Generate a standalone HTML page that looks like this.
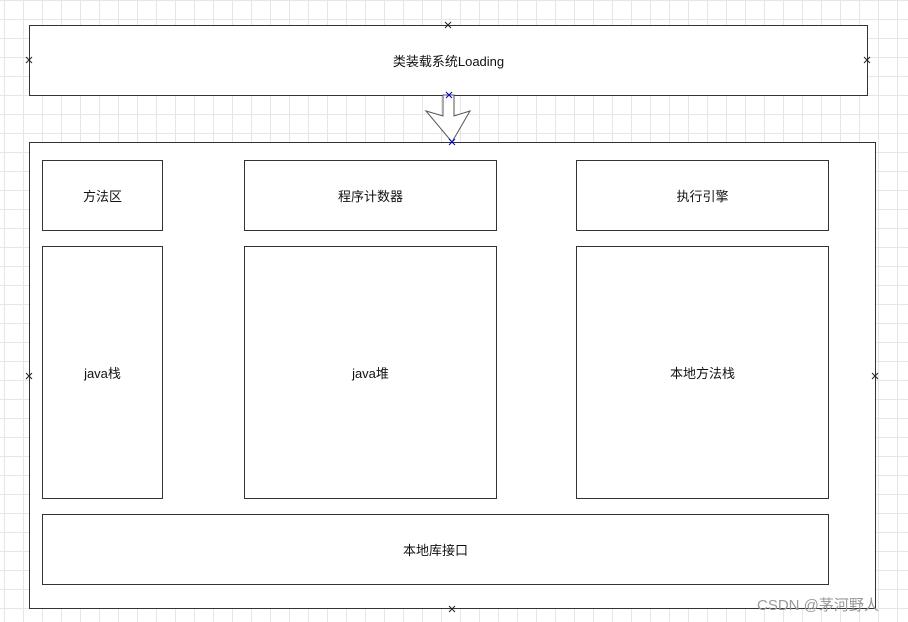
<!DOCTYPE html>
<html><head><meta charset="utf-8"><style>
body{margin:0;width:908px;height:622px;overflow:hidden;background:#fff;position:relative;font-family:"Liberation Sans","Noto Sans CJK SC",sans-serif;}
.grid{position:absolute;inset:0;background-image:linear-gradient(to right,#e6e6e6 1px,transparent 1px),linear-gradient(to bottom,#e6e6e6 1px,transparent 1px);background-size:19px 19px;background-position:4px 0px;}
.b{position:absolute;border:1px solid #333;background:#fff;display:flex;align-items:center;justify-content:center;font-size:13px;color:#111;box-sizing:border-box;}
.x{position:absolute;font-size:10px;color:#333;line-height:10px;width:10px;text-align:center;}
</style></head><body>
<div class="grid"></div>
<div class="b" style="left:29px;top:25px;width:839px;height:71px">类装载系统Loading</div>
<div class="b" style="left:29px;top:142px;width:847px;height:467px"></div>
<div class="b" style="left:42px;top:160px;width:121px;height:71px">方法区</div>
<div class="b" style="left:244px;top:160px;width:253px;height:71px">程序计数器</div>
<div class="b" style="left:576px;top:160px;width:253px;height:71px">执行引擎</div>
<div class="b" style="left:42px;top:246px;width:121px;height:253px">java栈</div>
<div class="b" style="left:244px;top:246px;width:253px;height:253px">java堆</div>
<div class="b" style="left:576px;top:246px;width:253px;height:253px">本地方法栈</div>
<div class="b" style="left:42px;top:514px;width:787px;height:71px">本地库接口</div>
<svg style="position:absolute;left:0;top:0" width="908" height="622">
<polygon points="443,95 454,95 454,116 470,111 452,142 426,111 443,116" fill="#fff" stroke="#555" stroke-width="1"/>
<g stroke="#222" stroke-width="1">
<path d="M445,22l6,6M451,22l-6,6M26,57l6,6M32,57l-6,6M864,57l6,6M870,57l-6,6M26,373l6,6M32,373l-6,6M872,373l6,6M878,373l-6,6M449,606l6,6M455,606l-6,6"/>
</g>
<g stroke="#00c" stroke-width="1"><path d="M446,92l6,6M452,92l-6,6M449,139l6,6M455,139l-6,6"/></g>
</svg>
<div style="position:absolute;left:757px;top:594px;font-size:15px;color:#999;">CSDN @茅河野人</div>
</body></html>
